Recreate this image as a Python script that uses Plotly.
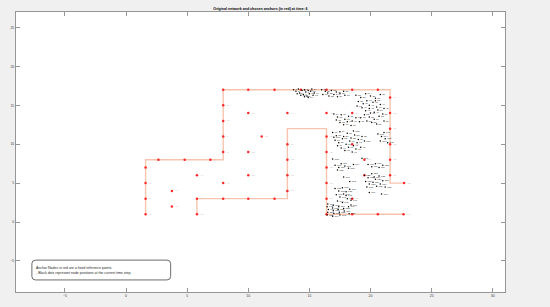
import plotly.graph_objects as go

# ---------------- data ----------------
title_text = "Original network and chosen anchors (in red) at time: 6"
x_tick_vals = [-5, 0, 5, 10, 15, 20, 25, 30]
y_tick_vals = [-5, 0, 5, 10, 15, 20, 25]

# network corridor polylines
outer_path_x = [1.6, 1.6, 7.95, 7.95, 21.6, 21.6, 22.75]
outer_path_y = [1.0, 8.0, 8.0, 17.0, 17.0, 5.0, 5.0]
inner_path_x = [5.8, 5.8, 13.2, 13.2, 16.4, 16.4, 22.7]
inner_path_y = [1.0, 3.0, 3.0, 12.0, 12.0, 1.0, 1.0]

# anchor nodes (red)
anchor_x = [1.6, 1.6, 1.6, 1.6, 2.65, 4.8, 6.9,
            7.95, 7.95, 7.95, 7.95, 7.95,
            10.0, 12.15, 14.3, 16.4, 18.5, 20.6,
            21.6, 21.6, 21.6, 21.6, 21.6, 21.6, 22.75,
            5.8, 5.8, 7.95, 10.0, 12.15,
            13.2, 13.2, 13.2, 13.2,
            16.4, 16.4, 16.4, 16.4, 16.4, 16.4,
            18.5, 20.6, 22.7,
            3.75, 3.75, 5.8, 7.95, 10.0, 13.2, 11.1, 10.0, 10.0,
            16.4, 18.5, 18.5, 19.5, 19.5, 18.5]
anchor_y = [1.0, 3.0, 5.0, 7.0, 8.0, 8.0, 8.0,
            9.0, 11.0, 13.0, 15.0, 17.0,
            17.0, 17.0, 17.0, 17.0, 17.0, 17.0,
            16.0, 14.0, 12.0, 10.0, 8.0, 6.0, 5.0,
            1.0, 3.0, 3.0, 3.0, 3.0,
            4.0, 6.0, 8.0, 10.0,
            11.0, 9.0, 7.0, 5.0, 3.0, 1.0,
            1.0, 1.0, 1.0,
            4.0, 2.0, 6.0, 5.0, 14.0, 14.0, 11.0, 9.0, 6.0,
            14.0, 14.0, 10.0, 8.0, 6.0, 3.0]

# node positions at current time step (black)
node_x = [
    13.7, 13.9, 14.1, 14.2, 14.4, 14.5, 14.6, 14.7, 14.8, 14.9, 15.0, 15.1, 15.3, 15.4, 14.3, 14.0, 15.2, 14.6, 14.9,
    16.0, 16.3, 16.5, 16.8, 17.0, 17.2, 17.5, 17.8, 16.6, 17.3, 16.1, 17.9,
    18.8, 19.2, 19.6, 20.0, 20.4, 20.8, 19.0, 19.4, 19.7, 19.9, 20.2, 20.5, 20.8, 21.1, 19.3, 19.6, 19.9, 20.3,
    20.6, 21.0, 19.5, 19.9, 20.3, 20.7, 21.1, 20.1, 20.5, 19.7, 18.9, 20.0, 20.4, 19.2,
    17.0, 17.3, 17.6, 17.9, 18.2, 18.5, 18.8, 19.1, 17.5, 17.8, 18.1, 17.2, 18.4,
    16.9, 17.2, 17.5, 17.8, 18.1, 18.4, 18.7, 19.0, 19.3, 17.1, 17.4, 17.7, 18.0, 18.3, 18.6, 18.9, 19.2,
    17.6, 17.9, 18.2, 18.5, 18.8, 17.3, 19.5, 17.0, 18.6,
    20.6, 20.9, 21.2, 20.8, 21.1, 21.4,
    17.1, 17.4, 17.6, 17.9, 18.2, 18.6, 17.3, 19.8, 20.1, 20.4, 20.7, 21.0,
    19.5, 19.8, 20.1, 20.4, 20.7, 21.0, 19.6, 19.9, 20.2, 20.5, 20.8, 21.2, 19.7, 20.3,
    17.1, 17.4, 17.7, 18.0, 18.3, 17.2, 17.5, 17.8, 18.1, 17.3, 17.7, 18.4, 18.0,
    16.45, 16.55, 16.5, 16.9, 16.45, 16.95, 17.4, 17.0, 17.35, 17.45, 17.8, 17.85, 18.2, 16.5, 16.95, 17.5, 16.9, 18.25,
    18.4, 19.3, 16.9, 19.9, 20.9, 17.8, 18.3,
]
node_y = [
    17.0, 16.8, 17.1, 16.6, 16.9, 16.4, 17.0, 16.7, 16.2, 16.9, 16.5, 16.8, 16.3, 16.6, 16.3, 16.5, 17.1, 16.1, 16.0,
    17.0, 16.8, 16.6, 16.9, 16.4, 16.7, 16.5, 16.8, 16.2, 16.1, 16.4, 16.3,
    16.3, 16.0, 16.5, 16.2, 15.9, 16.4, 15.5, 15.2, 15.6, 15.0, 15.4, 14.8, 15.1, 14.6, 14.7, 14.3, 14.6, 14.1,
    14.4, 13.9, 13.8, 13.5, 13.2, 13.6, 13.0, 12.8, 12.6, 13.0, 14.9, 14.0, 15.6, 13.4,
    13.9, 13.5, 13.8, 13.2, 13.6, 13.0, 13.4, 12.9, 12.8, 12.5, 12.9, 13.1, 12.4,
    11.5, 11.1, 11.6, 11.0, 11.4, 10.8, 11.2, 10.6, 11.0, 10.5, 10.2, 10.7, 10.0, 10.4, 9.8, 10.2, 9.6,
    9.5, 9.2, 9.6, 9.0, 9.4, 9.8, 10.4, 10.9, 11.7,
    11.3, 11.0, 10.7, 10.4, 11.5, 10.2,
    7.3, 7.0, 7.5, 7.2, 6.9, 7.4, 6.7, 7.4, 7.1, 7.5, 7.0, 7.3,
    6.0, 5.7, 6.2, 5.5, 5.9, 5.3, 5.2, 4.9, 5.1, 4.6, 4.9, 4.5, 4.5, 5.8,
    4.3, 4.0, 4.4, 3.9, 4.2, 3.5, 3.2, 3.6, 3.0, 2.7, 2.5, 2.8, 3.4,
    1.95, 1.6, 1.25, 1.8, 0.9, 1.45, 1.95, 1.1, 1.6, 1.25, 1.75, 1.4, 1.95, 2.3, 2.15, 0.9, 0.75, 1.05,
    2.2, 8.2, 8.1, 3.8, 3.6, 5.8, 5.2,
]

legend_lines = ["Anchor Nodes in red are a fixed reference points.",
                "- Black dots represent node positions at the current time step."]

# ---------------- figure ----------------
fig = go.Figure()
line_color = "rgb(248,196,175)"
fig.add_trace(go.Scatter(x=outer_path_x, y=outer_path_y, mode="lines",
                         line=dict(color=line_color, width=1.4), hoverinfo="skip"))
fig.add_trace(go.Scatter(x=inner_path_x, y=inner_path_y, mode="lines",
                         line=dict(color=line_color, width=1.4), hoverinfo="skip"))

anchor_labels = ["A%d" % (i + 1) for i in range(len(anchor_x))]
fig.add_trace(go.Scatter(x=anchor_x, y=anchor_y, mode="markers+text",
                         marker=dict(color="rgb(255,40,40)", size=2.5),
                         text=anchor_labels, textposition="middle right",
                         textfont=dict(size=2.2, color="rgb(205,190,190)", family="Liberation Sans")))

node_labels = [str(i + 1) for i in range(len(node_x))]
fig.add_trace(go.Scatter(x=node_x, y=node_y, mode="markers+text",
                         marker=dict(color="black", size=1.5),
                         text=node_labels, textposition="middle right",
                         textfont=dict(size=2.5, color="rgb(30,30,30)", family="Liberation Sans")))

# legend-like rounded box
x0, x1, y0, y1 = -7.7, 3.65, -7.45, -4.9
rx, ry = 0.3, 0.45
path = (f"M {x0+rx},{y1} L {x1-rx},{y1} Q {x1},{y1} {x1},{y1-ry} "
        f"L {x1},{y0+ry} Q {x1},{y0} {x1-rx},{y0} L {x0+rx},{y0} "
        f"Q {x0},{y0} {x0},{y0+ry} L {x0},{y1-ry} Q {x0},{y1} {x0+rx},{y1} Z")
fig.add_shape(type="path", path=path, xref="x", yref="y",
              line=dict(color="rgb(70,70,70)", width=0.8), fillcolor="white")
fig.add_annotation(x=x0 + 0.15, y=(y0 + y1) / 2, xref="x", yref="y",
                   text="<br>".join(legend_lines), showarrow=False,
                   xanchor="left", yanchor="middle", align="left",
                   font=dict(size=3.5, color="rgb(30,30,30)", family="Liberation Sans"))

fig.update_layout(
    width=550, height=307,
    paper_bgcolor="rgb(240,240,240)", plot_bgcolor="white",
    margin=dict(l=16, r=45, t=12, b=15, autoexpand=False),
    showlegend=False,
    title=dict(text="<b>" + title_text + "</b>", x=(16 + 505) / 2 / 550, xanchor="center",
               y=1 - 9 / 307, yanchor="middle",
               font=dict(size=3.6, color="black", family="Liberation Sans")),
)
axis_common = dict(showgrid=False, zeroline=False, showline=True, linecolor="rgb(150,150,150)",
                   linewidth=1, mirror="ticks", ticks="inside", ticklen=4, automargin=False,
                   tickcolor="rgb(150,150,150)", tickfont=dict(size=3.5, color="rgb(60,60,60)",
                                                               family="Liberation Sans"))
fig.update_xaxes(range=[-9, 31], tickvals=x_tick_vals, **axis_common)
fig.update_yaxes(range=[-9, 27], tickvals=y_tick_vals, **axis_common)

fig.write_html("out.html", config={"displayModeBar": False},
               post_script="document.body.style.margin='0px';document.body.style.background='rgb(240,240,240)';")
